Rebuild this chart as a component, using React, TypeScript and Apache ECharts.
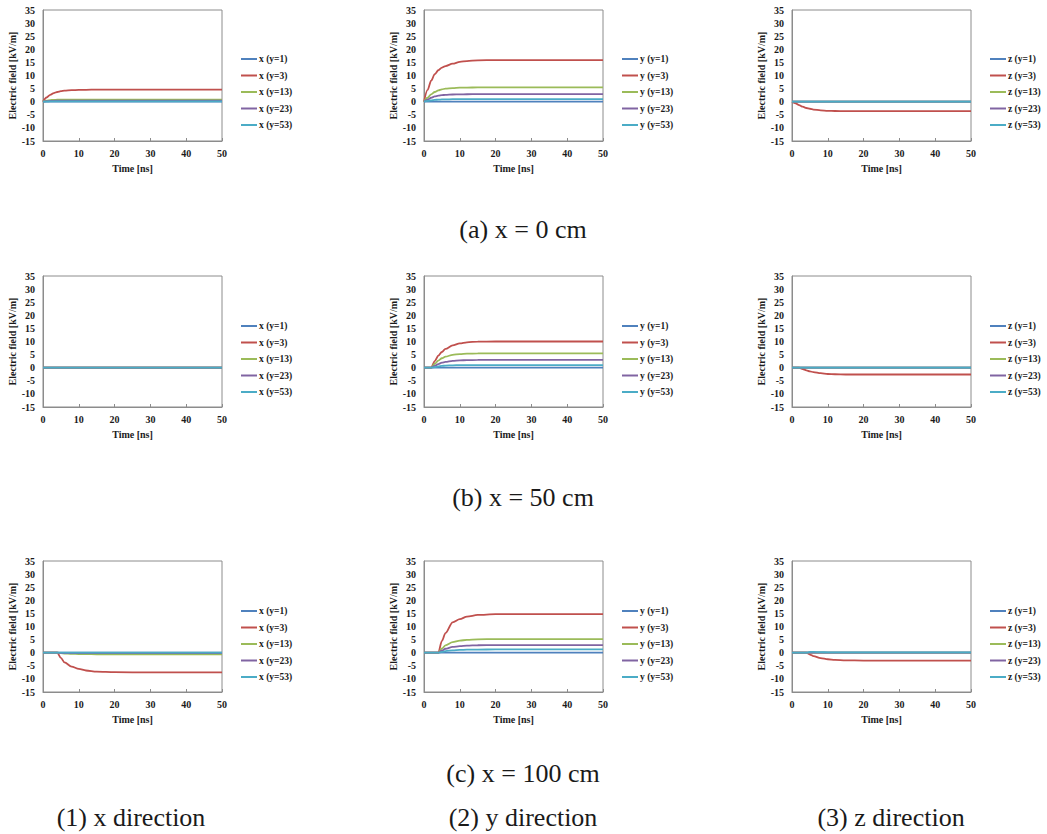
import React, { useEffect, useRef } from "react";
import * as echarts from "echarts";

// Time samples [ns]
const times = [0, 1, 2, 3, 4, 5, 6, 8, 10, 12, 15, 20, 30, 40, 50];
const stations = ["y=1", "y=3", "y=13", "y=23", "y=53"];
const directions = ["x", "y", "z"];
const rowCaptions = ["(a) x = 0 cm", "(b) x = 50 cm", "(c) x = 100 cm"];
const colCaptions = ["(1) x direction", "(2) y direction", "(3) z direction"];
const seriesColors = ["#4F81BD", "#C0504D", "#9BBB59", "#8064A2", "#4BACC6"];
const xTicks = { min: 0, max: 50, interval: 10 };
const yTicks = { min: -15, max: 35, interval: 5 };

// (a) x = 0 cm
const ex_x0 = [
  [0, 0, 0, 0, 0, 0, 0, 0, 0, 0, 0, 0, 0, 0, 0],
  [0, 1.6, 2.6, 3.3, 3.7, 4.0, 4.2, 4.4, 4.5, 4.55, 4.6, 4.6, 4.6, 4.6, 4.6],
  [0, 0.4, 0.6, 0.7, 0.75, 0.8, 0.8, 0.8, 0.8, 0.8, 0.8, 0.8, 0.8, 0.8, 0.8],
  [0, 0.2, 0.3, 0.35, 0.4, 0.4, 0.4, 0.4, 0.4, 0.4, 0.4, 0.4, 0.4, 0.4, 0.4],
  [0, 0.05, 0.1, 0.1, 0.1, 0.1, 0.1, 0.1, 0.1, 0.1, 0.1, 0.1, 0.1, 0.1, 0.1],
];
const ey_x0 = [
  [0, 0, 0, 0, 0, 0, 0, 0, 0, 0, 0, 0, 0, 0, 0],
  [0, 4.5, 8.0, 10.5, 12.0, 13.0, 13.6, 14.5, 15.2, 15.5, 15.8, 15.9, 15.9, 15.9, 15.9],
  [0, 1.5, 2.8, 3.7, 4.3, 4.7, 5.0, 5.2, 5.35, 5.4, 5.45, 5.5, 5.5, 5.5, 5.5],
  [0, 0.8, 1.5, 2.0, 2.3, 2.5, 2.6, 2.75, 2.8, 2.85, 2.9, 2.9, 2.9, 2.9, 2.9],
  [0, 0.3, 0.5, 0.7, 0.8, 0.85, 0.9, 0.95, 1.0, 1.0, 1.0, 1.0, 1.0, 1.0, 1.0],
];
const ez_x0 = [
  [0, 0, 0, 0, 0, 0, 0, 0, 0, 0, 0, 0, 0, 0, 0],
  [0, -0.6, -1.3, -1.9, -2.4, -2.7, -3.0, -3.3, -3.5, -3.55, -3.6, -3.6, -3.6, -3.6, -3.6],
  [0, 0, 0, 0, 0, 0, 0, 0, 0, 0, 0, 0, 0, 0, 0],
  [0, 0, 0, 0, 0, 0, 0, 0, 0, 0, 0, 0, 0, 0, 0],
  [0, 0, 0, 0, 0, 0, 0, 0, 0, 0, 0, 0, 0, 0, 0],
];

// (b) x = 50 cm
const ex_x50 = [
  [0, 0, 0, 0, 0, 0, 0, 0, 0, 0, 0, 0, 0, 0, 0],
  [0, 0, 0, 0, 0, 0, 0, 0, 0, 0, 0, 0, 0, 0, 0],
  [0, 0, 0, 0, 0, 0, 0, 0, 0, 0, 0, 0, 0, 0, 0],
  [0, 0, 0, 0, 0, 0, 0, 0, 0, 0, 0, 0, 0, 0, 0],
  [0, 0, 0, 0, 0, 0, 0, 0, 0, 0, 0, 0, 0, 0, 0],
];
const ey_x50 = [
  [0, 0, 0, 0, 0, 0, 0, 0, 0, 0, 0, 0, 0, 0, 0],
  [0, 0, 0, 2.5, 4.6, 6.0, 7.2, 8.5, 9.3, 9.7, 9.95, 10.0, 10.0, 10.0, 10.0],
  [0, 0, 0, 1.5, 2.7, 3.6, 4.2, 4.9, 5.2, 5.35, 5.45, 5.5, 5.5, 5.5, 5.5],
  [0, 0, 0, 0.7, 1.4, 1.9, 2.2, 2.6, 2.8, 2.9, 2.95, 3.0, 3.0, 3.0, 3.0],
  [0, 0, 0, 0.2, 0.5, 0.7, 0.8, 0.9, 1.0, 1.0, 1.0, 1.0, 1.0, 1.0, 1.0],
];
const ez_x50 = [
  [0, 0, 0, 0, 0, 0, 0, 0, 0, 0, 0, 0, 0, 0, 0],
  [0, 0, 0, -0.5, -1.0, -1.4, -1.7, -2.1, -2.4, -2.5, -2.6, -2.6, -2.6, -2.6, -2.6],
  [0, 0, 0, 0, 0, 0, 0, 0, 0, 0, 0, 0, 0, 0, 0],
  [0, 0, 0, 0, 0, 0, 0, 0, 0, 0, 0, 0, 0, 0, 0],
  [0, 0, 0, 0, 0, 0, 0, 0, 0, 0, 0, 0, 0, 0, 0],
];

// (c) x = 100 cm
const ex_x100 = [
  [0, 0, 0, 0, 0, 0, 0, 0, 0, 0, 0, 0, 0, 0, 0],
  [0, 0, 0, 0, 0, -2.0, -3.7, -5.3, -6.2, -6.8, -7.2, -7.45, -7.5, -7.5, -7.5],
  [0, 0, 0, 0, 0, -0.2, -0.3, -0.45, -0.5, -0.55, -0.6, -0.6, -0.6, -0.6, -0.6],
  [0, 0, 0, 0, 0, -0.1, -0.15, -0.2, -0.2, -0.2, -0.2, -0.2, -0.2, -0.2, -0.2],
  [0, 0, 0, 0, 0, 0, 0, 0, 0, 0, 0, 0, 0, 0, 0],
];
const ey_x100 = [
  [0, 0, 0, 0, 0, 0, 0, 0, 0, 0, 0, 0, 0, 0, 0],
  [0, 0, 0, 0, 0, 4.5, 7.5, 11.6, 12.8, 13.8, 14.4, 14.7, 14.7, 14.7, 14.7],
  [0, 0, 0, 0, 0, 1.6, 2.8, 4.0, 4.6, 4.9, 5.1, 5.2, 5.2, 5.2, 5.2],
  [0, 0, 0, 0, 0, 0.8, 1.5, 2.2, 2.5, 2.7, 2.85, 2.9, 2.9, 2.9, 2.9],
  [0, 0, 0, 0, 0, 0.3, 0.6, 0.9, 1.05, 1.15, 1.2, 1.25, 1.25, 1.25, 1.25],
];
const ez_x100 = [
  [0, 0, 0, 0, 0, 0, 0, 0, 0, 0, 0, 0, 0, 0, 0],
  [0, 0, 0, 0, 0, -0.7, -1.3, -2.1, -2.5, -2.75, -2.9, -3.0, -3.0, -3.0, -3.0],
  [0, 0, 0, 0, 0, 0, 0, 0, 0, 0, 0, 0, 0, 0, 0],
  [0, 0, 0, 0, 0, 0, 0, 0, 0, 0, 0, 0, 0, 0, 0],
  [0, 0, 0, 0, 0, 0.3, 0.3, 0.2, 0.15, 0.1, 0.1, 0.1, 0.1, 0.1, 0.1],
];

const panels = [
  [ex_x0, ey_x0, ez_x0],
  [ex_x50, ey_x50, ez_x50],
  [ex_x100, ey_x100, ez_x100],
];

// Layout
const colLeft = [43, 424, 792];
const rowTop = [10, 276, 561];
const plotW = 179;
const plotH = 131;
const legendLeft = [241, 622, 990];
const legendTop = [53, 320, 605];
const rowCaptionY = [229, 497, 773];
const colCaptionX = [131, 523, 891];
const colCaptionY = 817;

const FONT = "'Liberation Serif', 'Times New Roman', serif";

export default function App() {
  const ref = useRef<HTMLDivElement>(null);

  useEffect(() => {
    if (!ref.current) return;
    const chart = echarts.init(ref.current, undefined, { renderer: "svg" });

    const grids: any[] = [];
    const xAxes: any[] = [];
    const yAxes: any[] = [];
    const legends: any[] = [];
    const series: any[] = [];
    const textStyle = { fontFamily: FONT, fontWeight: "bold", fontSize: 10, color: "#1a1a1a" };

    let idx = 0;
    for (let r = 0; r < 3; r++) {
      for (let c = 0; c < 3; c++) {
        grids.push({
          left: colLeft[c],
          top: rowTop[r],
          width: plotW,
          height: plotH,
          show: true,
          borderColor: "#8c8c8c",
          borderWidth: 1,
          backgroundColor: "transparent",
        });
        xAxes.push({
          gridIndex: idx,
          type: "value",
          min: xTicks.min,
          max: xTicks.max,
          interval: xTicks.interval,
          axisLine: { show: true, onZero: false, lineStyle: { color: "#8c8c8c", width: 1 } },
          axisTick: { show: true, inside: true, length: 3, lineStyle: { color: "#8c8c8c" } },
          splitLine: { show: false },
          axisLabel: { ...textStyle, margin: 7 },
          name: "Time [ns]",
          nameLocation: "middle",
          nameGap: 22,
          nameTextStyle: { ...textStyle },
        });
        yAxes.push({
          gridIndex: idx,
          type: "value",
          min: yTicks.min,
          max: yTicks.max,
          interval: yTicks.interval,
          axisLine: { show: true, lineStyle: { color: "#8c8c8c", width: 1 } },
          axisTick: { show: false },
          splitLine: { show: false },
          axisLabel: { ...textStyle, margin: 8 },
          name: "Electric field [kV/m]",
          nameLocation: "middle",
          nameGap: 26,
          nameTextStyle: { ...textStyle },
        });
        const dir = directions[c];
        const names = stations.map((s) => `${dir} (${s})`);
        legends.push({
          orient: "vertical",
          left: legendLeft[c],
          top: legendTop[r],
          padding: 0,
          itemGap: 4.5,
          itemWidth: 16,
          itemHeight: 2,
          icon: "rect",
          data: names,
          selectedMode: false,
          textStyle: { ...textStyle, fontSize: 9.5, lineHeight: 12, padding: [0, 0, 0, -3] },
        });
        const vals = panels[r][c];
        names.forEach((nm, k) => {
          series.push({
            type: "line",
            name: nm,
            xAxisIndex: idx,
            yAxisIndex: idx,
            data: times.map((t, j) => [t, vals[k][j]]),
            symbol: "none",
            showSymbol: false,
            smooth: 0.3,
            smoothMonotone: "x",
            color: seriesColors[k],
            lineStyle: { color: seriesColors[k], width: 1.8 },
            z: 2 + k,
          });
        });
        idx++;
      }
    }

    const captionStyle = { fontFamily: FONT, fontSize: 26, fill: "#1a1a1a" };
    const graphics: any[] = [];
    rowCaptions.forEach((t, r) => {
      graphics.push({
        type: "text",
        x: colCaptionX[1],
        y: rowCaptionY[r],
        style: { ...captionStyle, text: t, textAlign: "center", textVerticalAlign: "middle" },
      });
    });
    colCaptions.forEach((t, c) => {
      graphics.push({
        type: "text",
        x: colCaptionX[c],
        y: colCaptionY,
        style: { ...captionStyle, text: t, textAlign: "center", textVerticalAlign: "middle" },
      });
    });

    chart.setOption({
      animation: false,
      backgroundColor: "#ffffff",
      grid: grids,
      xAxis: xAxes,
      yAxis: yAxes,
      legend: legends,
      series,
      graphic: graphics,
    });

    return () => chart.dispose();
  }, []);

  return (
    <div
      ref={ref}
      style={{ position: "fixed", left: 0, top: 0, width: 1047, height: 834, background: "#fff" }}
    />
  );
}
